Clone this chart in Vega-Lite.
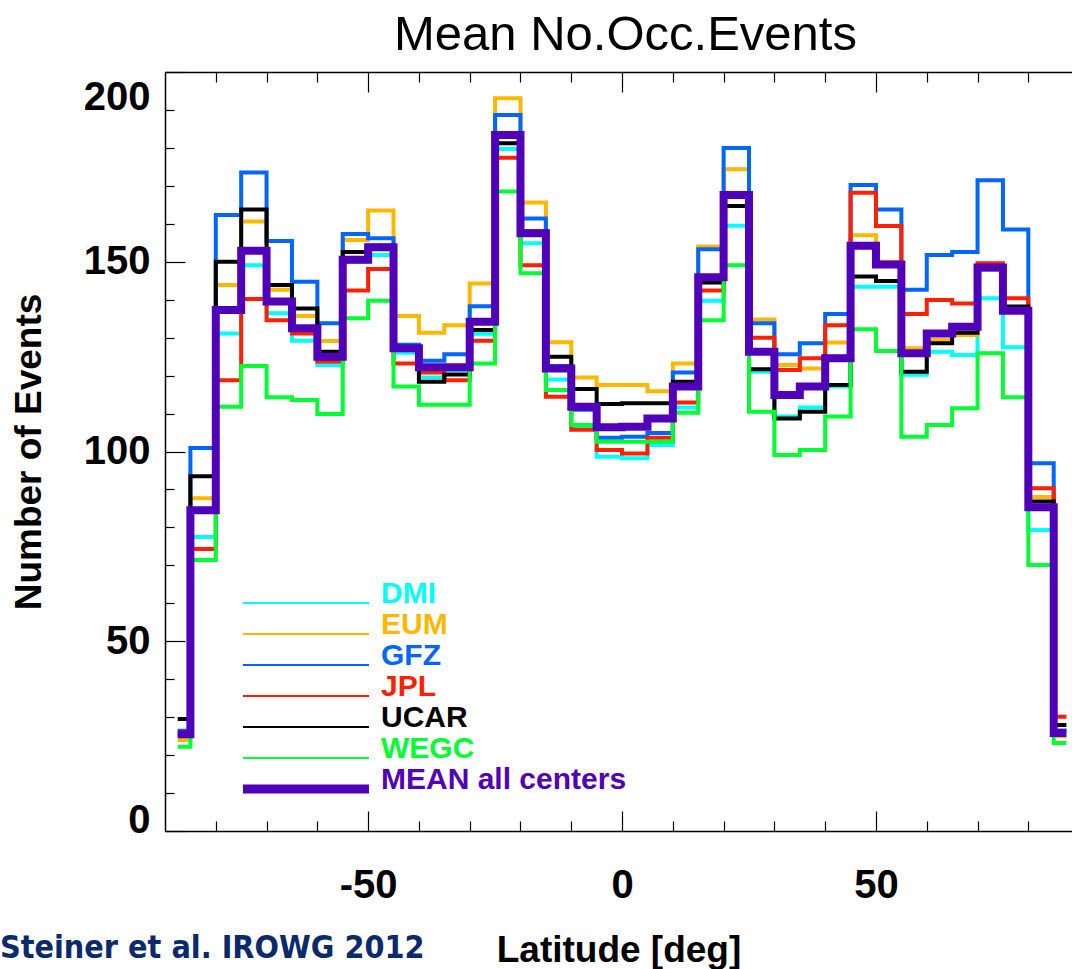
{
  "$schema": "https://vega.github.io/schema/vega-lite/v6.json",
  "width": 907,
  "height": 759,
  "autosize": {"type": "none"},
  "padding": {"left": 165, "top": 72, "right": 0, "bottom": 138},
  "background": "white",
  "title": {"text": "Mean No.Occ.Events", "font": "Liberation Sans", "fontSize": 49, "fontWeight": "normal", "color": "black", "anchor": "middle", "frame": "group", "baseline": "alphabetic", "offset": -28, "dx": 7},
  "config": {"view": {"stroke": null}, "font": "Liberation Sans"},
  "datasets": {
    "counts": [
      {"lat": -87.5, "DMI": 25.5, "EUM": 24.0, "GFZ": 26.4, "JPL": 25.3, "UCAR": 29.5, "WEGC": 22.2, "MEAN": 25.5},
      {"lat": -82.5, "DMI": 77.5, "EUM": 87.7, "GFZ": 100.9, "JPL": 74.3, "UCAR": 93.5, "WEGC": 71.4, "MEAN": 84.5},
      {"lat": -77.5, "DMI": 131.1, "EUM": 143.9, "GFZ": 162.3, "JPL": 118.8, "UCAR": 150.0, "WEGC": 111.8, "MEAN": 137.3},
      {"lat": -72.5, "DMI": 149.1, "EUM": 160.6, "GFZ": 173.5, "JPL": 140.2, "UCAR": 163.8, "WEGC": 122.5, "MEAN": 152.9},
      {"lat": -67.5, "DMI": 136.4, "EUM": 142.6, "GFZ": 155.5, "JPL": 134.6, "UCAR": 143.9, "WEGC": 114.3, "MEAN": 139.5},
      {"lat": -62.5, "DMI": 129.2, "EUM": 135.7, "GFZ": 144.7, "JPL": 131.1, "UCAR": 137.7, "WEGC": 113.6, "MEAN": 132.5},
      {"lat": -57.5, "DMI": 122.8, "EUM": 129.1, "GFZ": 133.8, "JPL": 123.7, "UCAR": 126.3, "WEGC": 109.9, "MEAN": 125.0},
      {"lat": -52.5, "DMI": 150.0, "EUM": 155.7, "GFZ": 157.3, "JPL": 142.4, "UCAR": 152.6, "WEGC": 135.1, "MEAN": 150.5},
      {"lat": -47.5, "DMI": 151.8, "EUM": 163.5, "GFZ": 156.2, "JPL": 148.1, "UCAR": 154.2, "WEGC": 139.7, "MEAN": 153.8},
      {"lat": -42.5, "DMI": 126.0, "EUM": 135.7, "GFZ": 128.1, "JPL": 123.2, "UCAR": 127.0, "WEGC": 117.1, "MEAN": 127.2},
      {"lat": -37.5, "DMI": 119.5, "EUM": 131.3, "GFZ": 123.9, "JPL": 120.8, "UCAR": 118.4, "WEGC": 112.3, "MEAN": 122.2},
      {"lat": -32.5, "DMI": 121.5, "EUM": 133.3, "GFZ": 125.6, "JPL": 118.8, "UCAR": 120.3, "WEGC": 112.3, "MEAN": 122.2},
      {"lat": -27.5, "DMI": 131.0, "EUM": 144.3, "GFZ": 138.3, "JPL": 129.2, "UCAR": 132.0, "WEGC": 123.2, "MEAN": 134.2},
      {"lat": -22.5, "DMI": 179.7, "EUM": 193.1, "GFZ": 188.7, "JPL": 177.4, "UCAR": 181.2, "WEGC": 168.5, "MEAN": 183.4},
      {"lat": -17.5, "DMI": 154.9, "EUM": 165.6, "GFZ": 161.4, "JPL": 149.1, "UCAR": 158.0, "WEGC": 147.0, "MEAN": 157.5},
      {"lat": -12.5, "DMI": 119.0, "EUM": 128.8, "GFZ": 122.5, "JPL": 114.4, "UCAR": 125.0, "WEGC": 116.2, "MEAN": 121.9},
      {"lat": -7.5, "DMI": 106.0, "EUM": 119.5, "GFZ": 111.0, "JPL": 105.7, "UCAR": 116.5, "WEGC": 107.0, "MEAN": 111.8},
      {"lat": -2.5, "DMI": 98.6, "EUM": 117.5, "GFZ": 103.6, "JPL": 100.4, "UCAR": 112.5, "WEGC": 102.6, "MEAN": 106.4},
      {"lat": 2.5, "DMI": 98.2, "EUM": 117.5, "GFZ": 103.9, "JPL": 99.5, "UCAR": 112.7, "WEGC": 102.6, "MEAN": 106.5},
      {"lat": 7.5, "DMI": 101.7, "EUM": 115.9, "GFZ": 104.9, "JPL": 103.6, "UCAR": 112.7, "WEGC": 102.6, "MEAN": 108.7},
      {"lat": 12.5, "DMI": 111.6, "EUM": 123.2, "GFZ": 120.8, "JPL": 112.9, "UCAR": 118.4, "WEGC": 110.2, "MEAN": 117.1},
      {"lat": 17.5, "DMI": 139.7, "EUM": 154.0, "GFZ": 153.3, "JPL": 142.4, "UCAR": 144.5, "WEGC": 134.6, "MEAN": 145.9},
      {"lat": 22.5, "DMI": 159.5, "EUM": 174.4, "GFZ": 180.0, "JPL": 168.0, "UCAR": 164.7, "WEGC": 149.1, "MEAN": 167.6},
      {"lat": 27.5, "DMI": 121.0, "EUM": 134.8, "GFZ": 133.8, "JPL": 130.0, "UCAR": 121.7, "WEGC": 110.5, "MEAN": 126.3},
      {"lat": 32.5, "DMI": 109.2, "EUM": 122.8, "GFZ": 125.6, "JPL": 121.5, "UCAR": 108.7, "WEGC": 99.1, "MEAN": 114.9},
      {"lat": 37.5, "DMI": 111.6, "EUM": 121.9, "GFZ": 128.5, "JPL": 124.6, "UCAR": 110.5, "WEGC": 100.4, "MEAN": 117.1},
      {"lat": 42.5, "DMI": 117.1, "EUM": 128.7, "GFZ": 136.2, "JPL": 133.3, "UCAR": 117.5, "WEGC": 109.2, "MEAN": 124.6},
      {"lat": 47.5, "DMI": 143.4, "EUM": 157.0, "GFZ": 170.2, "JPL": 168.2, "UCAR": 146.1, "WEGC": 132.2, "MEAN": 154.2},
      {"lat": 52.5, "DMI": 143.4, "EUM": 150.0, "GFZ": 163.8, "JPL": 159.4, "UCAR": 144.9, "WEGC": 126.5, "MEAN": 149.3},
      {"lat": 57.5, "DMI": 120.2, "EUM": 127.2, "GFZ": 142.6, "JPL": 136.2, "UCAR": 121.0, "WEGC": 103.9, "MEAN": 125.9},
      {"lat": 62.5, "DMI": 126.3, "EUM": 129.4, "GFZ": 151.8, "JPL": 139.9, "UCAR": 128.5, "WEGC": 107.0, "MEAN": 131.1},
      {"lat": 67.5, "DMI": 125.4, "EUM": 130.7, "GFZ": 152.6, "JPL": 139.0, "UCAR": 131.3, "WEGC": 111.4, "MEAN": 132.9},
      {"lat": 72.5, "DMI": 140.4, "EUM": 148.0, "GFZ": 171.5, "JPL": 149.6, "UCAR": 148.0, "WEGC": 125.9, "MEAN": 148.5},
      {"lat": 77.5, "DMI": 127.5, "EUM": 137.0, "GFZ": 158.5, "JPL": 140.4, "UCAR": 138.2, "WEGC": 114.3, "MEAN": 137.1},
      {"lat": 82.5, "DMI": 79.3, "EUM": 88.0, "GFZ": 96.9, "JPL": 90.3, "UCAR": 86.8, "WEGC": 70.1, "MEAN": 85.3},
      {"lat": 87.5, "DMI": 26.0, "EUM": 25.0, "GFZ": 26.5, "JPL": 30.1, "UCAR": 27.9, "WEGC": 23.2, "MEAN": 25.8}
    ],
    "credit": [{"text": "Steiner et al. IROWG 2012"}]
  },
  "layer": [
    {
      "data": {"name": "counts"},
      "transform": [{"fold": ["DMI", "EUM", "GFZ", "JPL", "UCAR", "WEGC"], "as": ["center", "n"]}],
      "mark": {"type": "line", "interpolate": "step", "strokeWidth": 4, "clip": true},
      "encoding": {
        "x": {
          "field": "lat", "type": "quantitative",
          "scale": {"domain": [-90, 88.6], "nice": false, "zero": false},
          "axis": {
            "orient": "bottom",
            "values": [-80, -70, -60, -50, -40, -30, -20, -10, 0, 10, 20, 30, 40, 50, 60, 70, 80],
            "labelExpr": "datum.value % 50 === 0 ? (datum.value < 0 ? '-' : '') + abs(datum.value) : ''",
            "tickSize": {"condition": {"test": "datum.value % 50 === 0", "value": -20}, "value": -10},
            "tickColor": "black", "tickWidth": 1.2,
            "domainColor": "black", "domainWidth": 1.5,
            "labelFont": "Liberation Sans", "labelFontSize": 40, "labelFontWeight": "bold", "labelColor": "black",
            "labelPadding": 54, "labelBaseline": "top", "labelOverlap": false, "labelBound": false,
            "grid": false,
            "title": "Latitude [deg]", "titleFont": "Liberation Sans", "titleFontSize": 37,
            "titleFontWeight": "bold", "titleColor": "black", "titlePadding": 17
          }
        },
        "y": {
          "field": "n", "type": "quantitative",
          "scale": {"domain": [0, 200], "nice": false},
          "axis": {
            "orient": "left",
            "values": [0, 10, 20, 30, 40, 50, 60, 70, 80, 90, 100, 110, 120, 130, 140, 150, 160, 170, 180, 190, 200],
            "labelExpr": "datum.value % 50 === 0 ? datum.label : ''",
            "tickSize": {"condition": {"test": "datum.value % 50 === 0", "value": -20}, "value": -9},
            "labelOffset": {"condition": [{"test": "datum.value === 200", "value": 25}, {"test": "datum.value === 0", "value": -11}], "value": 0},
            "tickColor": "black", "tickWidth": 1.2,
            "domainColor": "black", "domainWidth": 1.5,
            "labelFont": "Liberation Sans", "labelFontSize": 40, "labelFontWeight": "bold", "labelColor": "black",
            "labelPadding": 35, "labelOverlap": false, "labelBound": false,
            "grid": false,
            "title": "Number of Events", "titleFont": "Liberation Sans", "titleFontSize": 37,
            "titleFontWeight": "bold", "titleColor": "black", "titlePadding": 35
          }
        },
        "color": {
          "field": "center", "type": "nominal",
          "scale": {
            "domain": ["DMI", "EUM", "GFZ", "JPL", "UCAR", "WEGC", "MEAN"],
            "range": ["#00FFFF", "#FFB800", "#0066FF", "#FF2000", "#000000", "#00FF33", "#5000B8"]
          },
          "legend": {
            "orient": "none", "legendX": 126, "legendY": 516, "title": null,
            "symbolType": "M-5,0H5", "symbolSize": 635, "symbolStrokeWidth": 2,
            "labelFont": "Liberation Sans", "labelFontSize": 30, "labelFontWeight": "bold", "labelBaseline": "alphabetic",
            "labelOffset": 60, "labelLimit": 500, "rowPadding": 1, "padding": 0,
            "labelExpr": "datum.value === 'MEAN' ? 'MEAN all centers' : datum.label",
            "encode": {
              "labels": {"update": {"fill": {"scale": "color", "field": "value"}}},
              "symbols": {"update": {"strokeWidth": {"signal": "datum.value === 'MEAN' ? 9 : 2"}}}
            }
          }
        }
      }
    },
    {
      "data": {"name": "counts"},
      "transform": [{"fold": ["MEAN"], "as": ["center", "n"]}],
      "mark": {"type": "line", "interpolate": "step", "strokeWidth": 8, "clip": true},
      "encoding": {
        "x": {
          "field": "lat", "type": "quantitative",
          "scale": {"domain": [-90, 88.6], "nice": false, "zero": false},
          "axis": {
            "orient": "top",
            "values": [-80, -70, -60, -50, -40, -30, -20, -10, 0, 10, 20, 30, 40, 50, 60, 70, 80],
            "labels": false,
            "tickSize": {"condition": {"test": "datum.value % 50 === 0", "value": -20}, "value": -10},
            "tickColor": "black", "tickWidth": 1.2,
            "domainColor": "black", "domainWidth": 1.5,
            "grid": false, "title": null
          }
        },
        "y": {"field": "n", "type": "quantitative", "scale": {"domain": [0, 200], "nice": false}, "axis": null},
        "color": {"field": "center", "type": "nominal"}
      }
    },
    {
      "data": {"name": "credit"},
      "mark": {"type": "text", "align": "left", "baseline": "alphabetic", "font": "DejaVu Sans Condensed, DejaVu Sans", "fontWeight": "bold", "fontSize": 32, "color": "#0B2A6B", "clip": false},
      "encoding": {
        "x": {"datum": -122.5, "type": "quantitative", "scale": {"domain": [-90, 88.6], "nice": false, "zero": false}, "axis": null},
        "y": {"datum": -33.5, "type": "quantitative", "scale": {"domain": [0, 200], "nice": false}, "axis": null},
        "text": {"field": "text"}
      }
    }
  ],
  "resolve": {"axis": {"x": "independent", "y": "independent"}}
}
